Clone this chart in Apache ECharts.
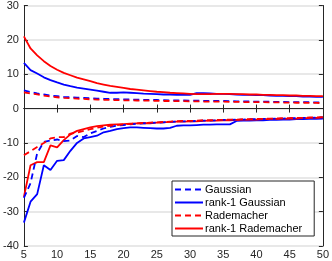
<!DOCTYPE html>
<html><head><meta charset="utf-8">
<script src="https://cdn.jsdelivr.net/npm/echarts@6/dist/echarts.min.js"></script>
<style>html,body{margin:0;padding:0;background:#fff}#c{width:332px;height:261px}</style>
</head><body><div id="c"></div>
<script>
const xs = [5,6,7,8,9,10,11,12,13,14,15,16,17,18,19,20,21,22,23,24,25,26,27,28,29,30,31,32,33,34,35,36,37,38,39,40,41,42,43,44,45,46,47,48,49,50];
const xTicks = [5,10,15,20,25,30,35,40,45,50];
const yTicks = [-40,-30,-20,-10,0,10,20,30];
const names = ['Gaussian','rank-1 Gaussian','Rademacher','rank-1 Rademacher'];

const gaussUpper = [5.3,4.8,4.4,4.1,3.8,3.6,3.4,3.3,3.2,3.1,3.0,2.9,2.85,2.8,2.75,2.7,2.65,2.6,2.55,2.5,2.5,2.45,2.4,2.4,2.35,2.3,2.3,2.25,2.25,2.2,2.2,2.15,2.1,2.1,2.05,2.05,2.0,2.0,1.95,1.95,1.9,1.9,1.85,1.85,1.8,1.8];
const gaussLower = [-26,-21.7,-13,-9.7,-9.3,-9,-9.5,-9.3,-8,-8.3,-7.2,-6.5,-5.8,-5.3,-5,-4.8,-4.6,-4.4,-4.3,-4.2,-4.1,-4.0,-3.9,-3.8,-3.7,-3.7,-3.6,-3.5,-3.5,-3.4,-3.3,-3.3,-3.2,-3.2,-3.1,-3.1,-3.0,-3.0,-2.9,-2.9,-2.8,-2.8,-2.7,-2.7,-2.6,-2.6];
const r1GaussUpper = [13.3,11.2,10.2,9.1,8.3,7.6,7.0,6.5,6.1,5.8,5.5,5.2,4.9,4.6,4.6,4.7,4.6,4.5,4.35,4.3,4.2,4.1,4.1,4.0,4.0,4.0,4.5,4.5,4.4,4.3,4.3,4.2,4.1,4.0,4.0,3.95,3.9,3.8,3.7,3.7,3.6,3.6,3.5,3.5,3.4,3.4];
const r1GaussLower = [-33.2,-27.1,-24.9,-16.5,-17.9,-15.2,-15.0,-12.3,-10,-8.7,-8.3,-7.9,-6.9,-6.5,-6,-5.7,-5.5,-5.5,-5.6,-5.7,-5.8,-5.8,-5.6,-5.0,-4.9,-4.9,-4.8,-4.7,-4.7,-4.6,-4.6,-4.6,-3.6,-3.5,-3.5,-3.4,-3.4,-3.3,-3.3,-3.2,-3.2,-3.1,-3.1,-3.0,-3.0,-2.9];
const radUpper = [4.7,4.4,4.1,3.8,3.5,3.3,3.1,3.0,2.9,2.8,2.7,2.6,2.55,2.5,2.45,2.4,2.4,2.35,2.3,2.3,2.25,2.2,2.2,2.15,2.15,2.1,2.1,2.05,2.05,2.0,2.0,1.95,1.95,1.9,1.9,1.85,1.85,1.8,1.8,1.75,1.75,1.7,1.7,1.65,1.65,1.6];
const radLower = [-13.6,-12.4,-11.2,-10,-8.7,-8.3,-8.3,-7.3,-7,-6.5,-6,-5.6,-5.2,-5,-4.8,-4.6,-4.5,-4.3,-4.2,-4.1,-4.0,-3.9,-3.8,-3.7,-3.6,-3.6,-3.5,-3.4,-3.4,-3.3,-3.3,-3.2,-3.2,-3.1,-3.1,-3.0,-3.0,-2.9,-2.9,-2.8,-2.8,-2.7,-2.7,-2.6,-2.6,-2.5];
const r1RadUpper = [21,17.5,15.5,13.8,12.4,11.3,10.4,9.7,9.0,8.5,8.0,7.4,7.0,6.6,6.3,6.0,5.7,5.5,5.3,5.1,4.9,4.8,4.6,4.5,4.4,4.3,4.2,4.2,4.2,4.3,4.3,4.3,4.2,4.2,4.1,4.1,4.0,4.0,3.9,3.9,3.8,3.8,3.7,3.7,3.6,3.6];
const r1RadLower = [-25.7,-16.5,-15.6,-15.6,-10.7,-11.3,-9.2,-7.5,-6.5,-6,-5.5,-5.1,-4.9,-4.7,-4.6,-4.5,-4.4,-4.3,-4.2,-4.3,-4.1,-4.0,-3.9,-3.8,-3.8,-3.7,-3.7,-3.6,-3.5,-3.5,-3.4,-3.4,-3.3,-3.3,-3.2,-3.2,-3.1,-3.1,-3.0,-3.0,-2.9,-2.9,-2.8,-2.8,-2.7,-2.6];

const BLUE = '#0000ff', RED = '#ff0000';
function pair(arr){ return xs.map((x,i)=>[x,arr[i]]); }
function mk(name, arr, color, dashed){
  return {name:name, type:'line', data:pair(arr), showSymbol:false, symbol:'none', animation:false,
    lineStyle:{color:color, width:1.8, type: dashed ? [6,4] : 'solid'}, itemStyle:{color:color}};
}
const series = [
  mk(names[1], r1GaussUpper, BLUE, false), mk(names[1], r1GaussLower, BLUE, false),
  mk(names[3], r1RadUpper, RED, false), mk(names[3], r1RadLower, RED, false),
  mk(names[0], gaussUpper, BLUE, true), mk(names[0], gaussLower, BLUE, true),
  mk(names[2], radUpper, RED, true), mk(names[2], radLower, RED, true)
];
const FONT = {fontFamily:'Liberation Sans, Arial, sans-serif', fontSize:11, color:'#262626'};
const axLine = {show:true, lineStyle:{color:'#262626', width:1}};
const chart = echarts.init(document.getElementById('c'), null, {renderer:'canvas'});
chart.setOption({
  animation:false,
  backgroundColor:'#fff',
  grid:{left:23, right:6, top:5, bottom:15, containLabel:false},
  xAxis:[
    {type:'value', min:xTicks[0], max:xTicks[xTicks.length-1], interval:5, position:'bottom',
     axisLine:axLine, axisTick:{show:true, inside:true, length:4, lineStyle:{color:'#262626'}},
     axisLabel:Object.assign({margin:3}, FONT), splitLine:{show:false}},
    {type:'value', min:xTicks[0], max:xTicks[xTicks.length-1], interval:5, position:'top',
     axisLine:axLine, axisTick:{show:true, inside:true, length:4, lineStyle:{color:'#262626'}},
     axisLabel:{show:false}, splitLine:{show:false}}
  ],
  yAxis:[
    {type:'value', min:yTicks[0], max:yTicks[yTicks.length-1], interval:10, position:'left',
     axisLine:axLine, axisTick:{show:true, inside:true, length:4, lineStyle:{color:'#262626'}},
     axisLabel:Object.assign({margin:5}, FONT), splitLine:{show:true, lineStyle:{color:'#e0e0e0', width:1.5}}},
    {type:'value', min:yTicks[0], max:yTicks[yTicks.length-1], interval:10, position:'right',
     axisLine:axLine, axisTick:{show:true, inside:true, length:4, lineStyle:{color:'#262626'}},
     axisLabel:{show:false}, splitLine:{show:false}}
  ],
  legend:{data:names, orient:'vertical', left:172, top:181, itemWidth:28, itemHeight:10, itemGap:0,
    padding:[2,12,1,2], borderColor:'#262626', borderWidth:1, backgroundColor:'#fff',
    itemStyle:{color:'rgba(0,0,0,0)', borderColor:'rgba(0,0,0,0)', borderWidth:0, opacity:0},
    textStyle:{fontFamily:'Liberation Sans, Arial, sans-serif', fontSize:11, color:'#000', padding:[0,0,0,-3], lineHeight:13}},
  series:series
});
</script></body></html>
